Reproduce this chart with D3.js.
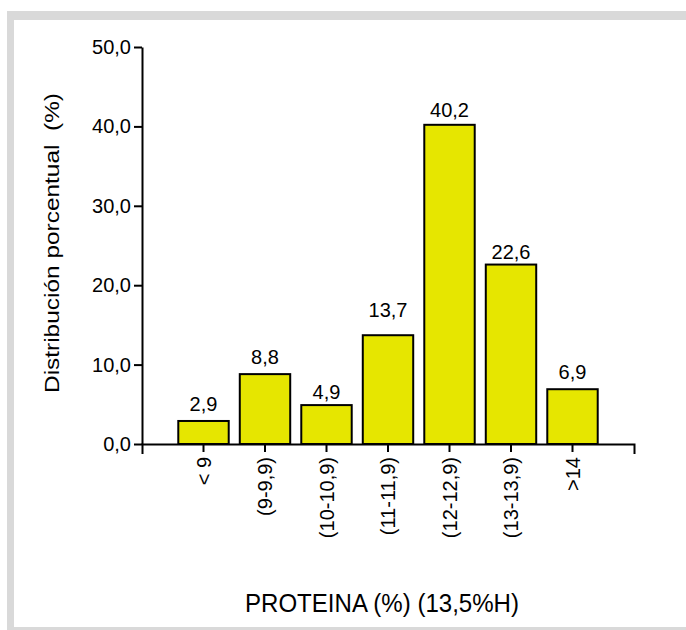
<!DOCTYPE html>
<html lang="es">
<head>
  <meta charset="UTF-8">
  <title>Distribución porcentual de proteína</title>
  <style>
    body { margin: 0; background: #fff; }
    text { font-family: "Liberation Sans", Arial, sans-serif; fill: #000; white-space: pre; }
  </style>
</head>
<body>
<div id="chart"></div>
<script src="https://d3js.org/d3.v7.min.js"></script>
<script>
  const categories = ['< 9', '(9-9,9)', '(10-10,9)', '(11-11,9)', '(12-12,9)', '(13-13,9)', '>14'];
  const values = [2.9, 8.8, 4.9, 13.7, 40.2, 22.6, 6.9];
  const yTicks = [0, 10, 20, 30, 40, 50];

  const width = 686;
  const height = 630;

  // comma as decimal separator
  const locale = d3.formatLocale({ decimal: ',', thousands: '.', grouping: [3], currency: ['', ''] });
  const fmt = locale.format('.1f');

  const svg = d3.select('#chart').append('svg')
    .attr('width', width)
    .attr('height', height);

  // grey frame
  svg.append('rect')
    .attr('x', 7).attr('y', 11)
    .attr('width', width - 7).attr('height', height - 11)
    .attr('fill', '#d9d9d9');
  svg.append('rect')
    .attr('x', 14).attr('y', 20)
    .attr('width', width - 14).attr('height', 607)
    .attr('fill', '#fff');

  const x = d3.scaleBand()
    .domain(categories)
    .range([142, 634])
    .paddingInner(0.18)
    .paddingOuter(0.59);

  const y = d3.scaleLinear()
    .domain([0, 50])
    .range([444, 47]);

  // bars
  svg.selectAll('.bar')
    .data(values)
    .enter()
    .append('rect')
    .attr('class', 'bar')
    .attr('x', (d, i) => x(categories[i]))
    .attr('y', d => y(d))
    .attr('width', x.bandwidth())
    .attr('height', d => y(0) - y(d))
    .attr('fill', '#e6e600')
    .attr('stroke', '#000')
    .attr('stroke-width', 2);

  // value labels (13,7 sits a bit higher in the original)
  const labelGap = [10, 10, 6, 18, 8, 6, 10];
  svg.selectAll('.val')
    .data(values)
    .enter()
    .append('text')
    .attr('class', 'val')
    .attr('x', (d, i) => x(categories[i]) + x.bandwidth() / 2)
    .attr('y', (d, i) => y(d) - labelGap[i])
    .attr('text-anchor', 'middle')
    .style('font-size', '20px')
    .text(d => fmt(d));

  // y axis
  const yAxis = svg.append('g')
    .attr('transform', 'translate(142,0)')
    .call(d3.axisLeft(y).tickValues(yTicks).tickFormat(fmt).tickSize(8).tickSizeOuter(0).tickPadding(3));
  yAxis.selectAll('path, line').attr('stroke', '#000').attr('stroke-width', 2);
  yAxis.selectAll('text')
    .style('font-size', '20px')
    .style('font-family', '"Liberation Sans", Arial, sans-serif')
    .attr('fill', '#000');

  // x axis
  const xAxis = svg.append('g')
    .attr('transform', 'translate(0,444)')
    .call(d3.axisBottom(x).tickSize(8).tickSizeOuter(10).tickFormat(''));
  xAxis.selectAll('path, line').attr('stroke', '#000').attr('stroke-width', 2);

  // rotated category labels
  svg.selectAll('.cat')
    .data(categories)
    .enter()
    .append('text')
    .attr('class', 'cat')
    .attr('transform', d => `translate(${x(d) + x.bandwidth() / 2},457) rotate(-90)`)
    .attr('dy', '0.35em')
    .attr('text-anchor', 'end')
    .style('font-size', '20px')
    .text(d => d);

  // axis titles
  svg.append('text')
    .attr('transform', 'translate(59,243) rotate(-90)')
    .attr('text-anchor', 'middle')
    .attr('textLength', 300)
    .attr('lengthAdjust', 'spacingAndGlyphs')
    .style('font-size', '21px')
    .text('Distribución porcentual  (%)');

  svg.append('text')
    .attr('x', 382)
    .attr('y', 612)
    .attr('text-anchor', 'middle')
    .attr('textLength', 274)
    .attr('lengthAdjust', 'spacingAndGlyphs')
    .style('font-size', '25px')
    .text('PROTEINA (%) (13,5%H)');
</script>
</body>
</html>
